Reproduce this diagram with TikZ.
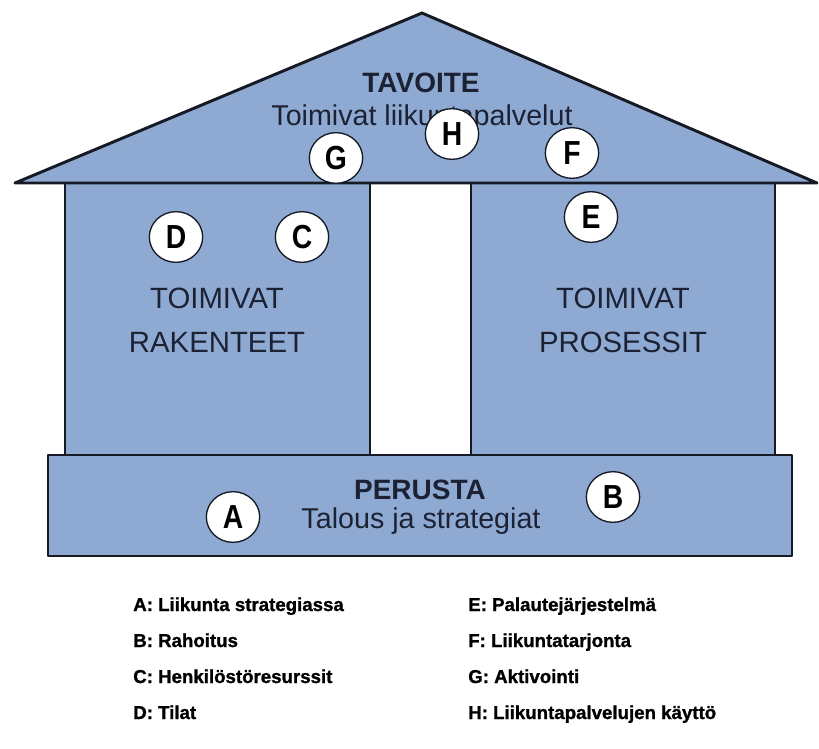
\documentclass[tikz,border=0pt]{standalone}
\usepackage{fontspec}
\setmainfont{Liberation Sans}
\newfontfamily\narrowfont{Liberation Sans}[FakeStretch=0.85]
\newfontfamily\heavyfont{Liberation Sans}[BoldFeatures={FakeBold=1.2}]
\usetikzlibrary{shapes.geometric}

\definecolor{houseblue}{RGB}{143,170,210}
\definecolor{edgeblack}{RGB}{22,26,36}
\definecolor{textnavy}{RGB}{28,34,52}

\begin{document}
\begin{tikzpicture}[x=0.75pt, y=-0.75pt]
		\tikzstyle{block} = [draw=edgeblack, line width=2.2pt, line join=round, fill=houseblue]
		
		\tikzstyle{letter} = [ellipse, draw=edgeblack, line width=1pt, fill=white, minimum width=40pt, minimum height=38pt, inner sep=0pt, font=\narrowfont\fontsize{25}{25}\selectfont\bfseries]
		
		\tikzstyle{heading} = [text=textnavy, font=\fontsize{21}{21}\selectfont\bfseries]
		
		\tikzstyle{subheading} = [text=textnavy, font=\fontsize{21.5}{22}\selectfont]
		
		\tikzstyle{pillartext} = [text=textnavy, align=center, font=\fontsize{22}{33}\selectfont]
		
		\tikzstyle{legend} = [anchor=base west, inner sep=0pt, font=\heavyfont\fontsize{14}{14}\selectfont\bfseries]
		
		\useasboundingbox (0,0) rectangle (819,749);
		
		% House outline
		\draw [block] (65,183) rectangle (370,455);
		\draw [block] (471,183) rectangle (775,455);
		\draw [block] (15,183) -- (422,13) -- (817,183) -- cycle;
		\draw [block] (48,455) rectangle (792,556);
		
		% Texts of the house
		\node (goal) [heading] at (421,83) {TAVOITE};
		\node (goalsub) [subheading] at (422,118) {Toimivat liikuntapalvelut};
		\node (structures) [pillartext] at (217,320) {TOIMIVAT\\RAKENTEET};
		\node (processes) [pillartext] at (623,320) {TOIMIVAT\\PROSESSIT};
		\node (base) [heading] at (420,490) {PERUSTA};
		\node (basesub) [subheading] at (421,521) {Talous ja strategiat};
		
		% Letter marks
		\node (g) [letter] at (336,158) {G};
		\node (h) [letter] at (452,134) {H};
		\node (f) [letter] at (572,153) {F};
		\node (d) [letter] at (176,237) {D};
		\node (c) [letter] at (302,237) {C};
		\node (e) [letter] at (591,217) {E};
		\node (a) [letter] at (233,517) {A};
		\node (b) [letter] at (613,497) {B};
		
		% Legend
		\node (la) [legend] at (133,611) {A: Liikunta strategiassa};
		\node (lb) [legend] at (133,647) {B: Rahoitus};
		\node (lc) [legend] at (133,683) {C: Henkilöstöresurssit};
		\node (ld) [legend] at (133,719) {D: Tilat};
		\node (le) [legend] at (468,611) {E: Palautejärjestelmä};
		\node (lf) [legend] at (468,647) {F: Liikuntatarjonta};
		\node (lg) [legend] at (468,683) {G: Aktivointi};
		\node (lh) [legend] at (468,719) {H: Liikuntapalvelujen käyttö};
		
\end{tikzpicture}
\end{document}
